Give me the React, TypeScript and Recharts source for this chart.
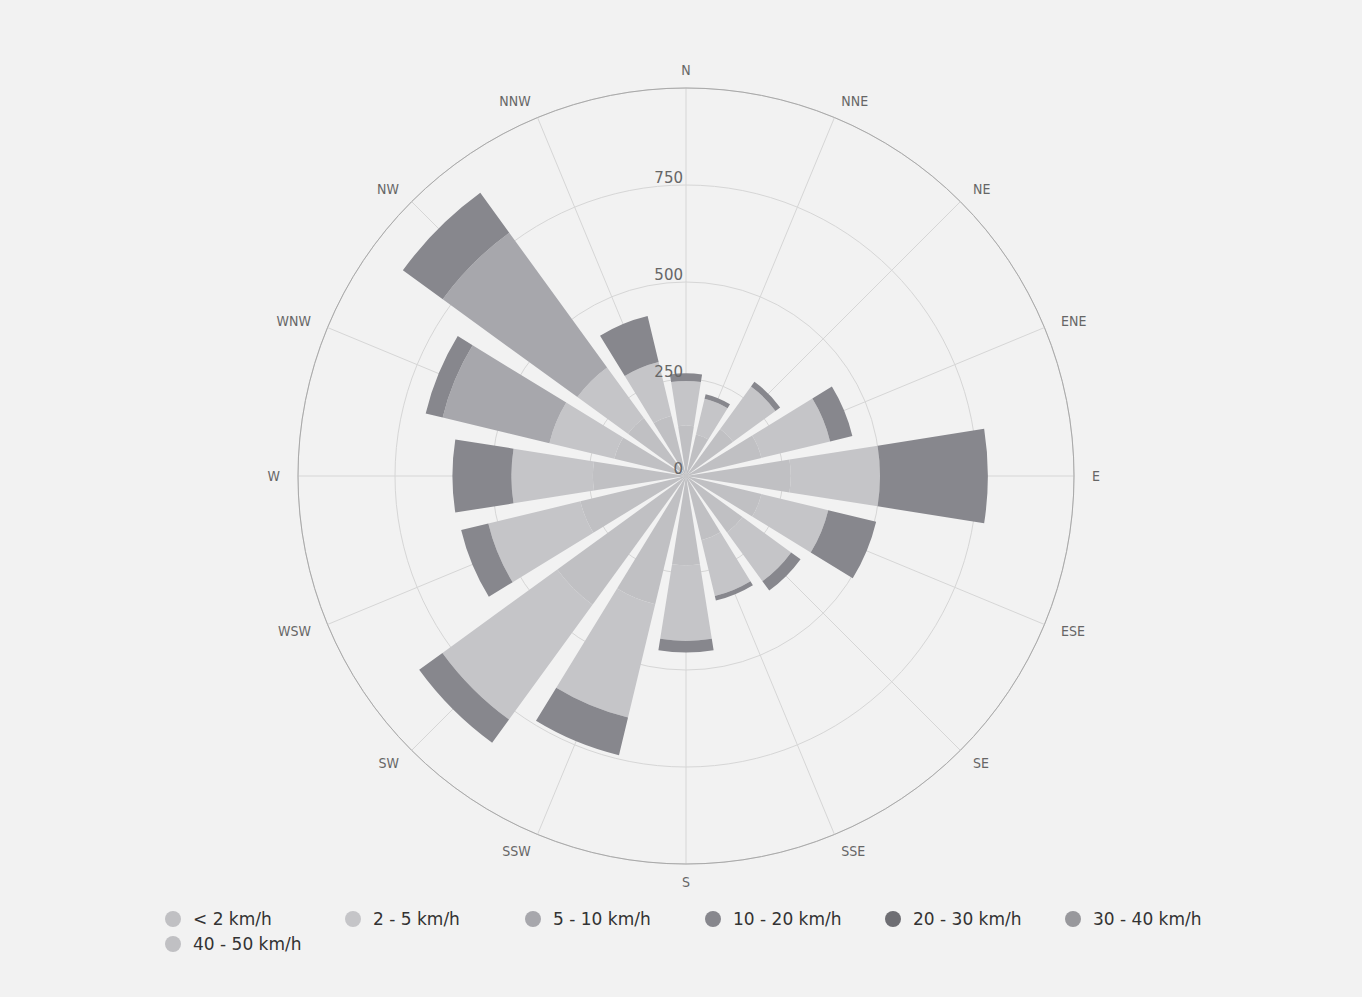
import { RadialBarChart, RadialBar, PolarGrid, PolarAngleAxis, PolarRadiusAxis, Legend } from 'recharts'

const DIRS = ['N', 'NNE', 'NE', 'ENE', 'E', 'ESE', 'SE', 'SSE', 'S', 'SSW', 'SW', 'WSW', 'W', 'WNW', 'NW', 'NNW']

// frequency per direction, one array per speed class
const S_LT2 = [130, 110, 150, 200, 270, 200, 180, 170, 230, 340, 410, 280, 240, 190, 185, 160]
const S_2_5 = [115, 95, 135, 182, 230, 177, 155, 148, 195, 300, 366, 244, 210, 172, 161, 142]
const S_5_10 = [0, 0, 0, 0, 0, 0, 0, 0, 0, 0, 0, 0, 0, 283, 429, 0]
const S_10_20 = [20, 12, 15, 59, 278, 127, 30, 12, 30, 100, 74, 72, 152, 45, 127, 122]
const S_20_30 = [0, 0, 0, 0, 0, 0, 0, 0, 0, 0, 0, 0, 0, 0, 0, 0]
const S_30_40 = [0, 0, 0, 0, 0, 0, 0, 0, 0, 0, 0, 0, 0, 0, 0, 0]
const S_40_50 = [0, 0, 0, 0, 0, 0, 0, 0, 0, 0, 0, 0, 0, 0, 0, 0]

const SERIES = ['< 2 km/h', '2 - 5 km/h', '5 - 10 km/h', '10 - 20 km/h', '20 - 30 km/h', '30 - 40 km/h', '40 - 50 km/h']
const KEYS = ['s1', 's2', 's3', 's4', 's5', 's6', 's7']
const COLORS = ['#c0c0c3', '#c5c5c8', '#a7a7ac', '#87878d', '#6e6e73', '#98989c', '#c0c0c3']

const RADIUS_TICKS = [0, 250, 500, 750, 1000]

const data = DIRS.map((dir, i) => ({
  dir,
  s1: S_LT2[i],
  s2: S_2_5[i],
  s3: S_5_10[i],
  s4: S_10_20[i],
  s5: S_20_30[i],
  s6: S_30_40[i],
  s7: S_40_50[i],
}))

const CX = 686
const CY = 476
const R = 388

const AngleTick = (props: any) => {
  const i = DIRS.indexOf(props.payload.value)
  const a = ((90 - i * 22.5) * Math.PI) / 180
  const c = Math.cos(a)
  const r = R + 18
  const x = CX + r * c
  const y = CY - r * Math.sin(a)
  const anchor = Math.abs(c) < 0.01 ? 'middle' : c > 0 ? 'start' : 'end'
  return (
    <text x={x} y={y} textAnchor={anchor} dominantBaseline="central" fontSize={14} fill="#666" fontFamily="DejaVu Sans Condensed, DejaVu Sans">
      {props.payload.value}
    </text>
  )
}

const RadiusTick = (props: any) => {
  const { x, y, payload } = props
  if (payload.value === 1000) return null
  return (
    <text x={x - 3} y={y - 7} textAnchor="end" dominantBaseline="central" fontSize={15} fill="#666" fontFamily="DejaVu Sans">
      {payload.value}
    </text>
  )
}

const LegendBox = () => (
  <div style={{ display: 'flex', flexWrap: 'wrap', width: 1100, fontFamily: 'DejaVu Sans', fontSize: 17, color: '#333' }}>
    {SERIES.map((name, i) => (
      <div key={name} style={{ width: 180, height: 25, display: 'flex', alignItems: 'center' }}>
        <span style={{ width: 16, height: 16, borderRadius: 8, background: COLORS[i], marginRight: 12, display: 'inline-block' }} />
        {name}
      </div>
    ))}
  </div>
)

export default function App() {
  return (
    <div style={{ position: 'absolute', left: 0, top: 0, width: 1362, height: 997, background: '#f2f2f2' }}>
      <RadialBarChart
        width={1362}
        height={997}
        data={data}
        layout="centric"
        cx={CX}
        cy={CY}
        innerRadius={0}
        outerRadius={R}
        startAngle={78.75}
        endAngle={-281.25}
        barCategoryGap="10%"
        margin={{ top: 0, right: 0, bottom: 0, left: 0 }}
      >
        <PolarGrid
          gridType="circle"
          stroke="#d6d6d6"
          polarAngles={DIRS.map((_, i) => 90 - i * 22.5)}
        />
        <PolarAngleAxis
          dataKey="dir"
          type="category"
          axisLineType="circle"
          axisLine={{ stroke: '#a9a9a9' }}
          tickLine={false}
          tick={AngleTick}
        />
        <PolarRadiusAxis
          type="number"
          domain={[0, 1000]}
          ticks={RADIUS_TICKS}
          angle={90}
          axisLine={false}
          tick={RadiusTick}
        />
        {KEYS.map((k, i) => (
          <RadialBar key={k} dataKey={k} name={SERIES[i]} stackId="a" fill={COLORS[i]} isAnimationActive={false} />
        ))}
        <Legend content={LegendBox} wrapperStyle={{ position: 'absolute', left: 165, top: 906, width: 1100 }} />
      </RadialBarChart>
    </div>
  )
}
